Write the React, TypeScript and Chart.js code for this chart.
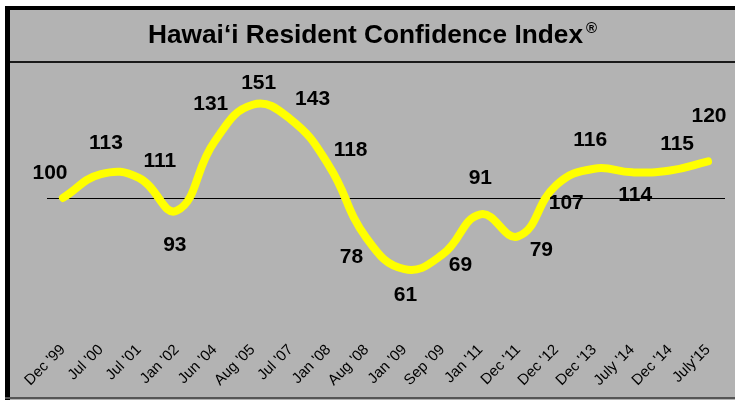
import React, { useEffect, useRef } from "react";
import { Chart, registerables } from "chart.js";

Chart.register(...registerables);

const categories = [
  "Dec '99", "Jul '00", "Jul '01", "Jan '02", "Jun '04", "Aug '05", "Jul '07", "Jan '08", "Aug '08",
  "Jan '09", "Sep '09", "Jan '11", "Dec '11", "Dec '12", "Dec '13", "July '14", "Dec '14", "July'15",
];
const indexValues = [100, 113, 111, 93, 131, 151, 143, 118, 78, 61, 69, 91, 79, 107, 116, 114, 115, 120];
const titleText = "Hawai\u2018i Resident Confidence Index";
const titleMark = "\u00AE";
const baselineValue = 100;

// label placement (offset in px from each point), presentation only
const labelOffsets: [number, number][] = [
  [-13, -25], [5, -31], [21, -17], [-2, 34], [-4, -37], [6, -22], [22, -20], [22, -15], [-15, 19],
  [1, 26], [18, 11], [0, -36], [23, 14], [10, 18], [-4, -28], [3, 23], [7, -26], [1, -45],
];

const FONT = "'Liberation Sans', Arial, Helvetica, sans-serif";

const framePlugin = {
  id: "frame",
  beforeDraw(chart: any) {
    const ctx = chart.ctx;
    const W = chart.width;
    const H = chart.height;
    ctx.save();
    ctx.fillStyle = "#ffffff";
    ctx.fillRect(0, 0, W, H);
    ctx.fillStyle = "#b3b3b3";
    ctx.fillRect(5, 6, W - 5, H - 6);
    ctx.fillStyle = "#000000";
    ctx.fillRect(5, 6, 5, H - 6);
    ctx.fillRect(5, 6, W - 5, 4);
    ctx.fillStyle = "#1a1a1a";
    ctx.fillRect(10, 61, W - 10, 2);
    ctx.fillStyle = "#555555";
    ctx.fillRect(5, 397, W - 5, 2);
    // title
    ctx.fillStyle = "#000000";
    ctx.font = `bold 25px ${FONT}`;
    ctx.textBaseline = "alphabetic";
    ctx.textAlign = "left";
    const w = ctx.measureText(titleText).width;
    const target = 435;
    const sx = target / w;
    ctx.save();
    ctx.translate(148, 43);
    ctx.scale(sx, 1);
    ctx.fillText(titleText, 0, 0);
    ctx.restore();
    ctx.font = `bold 15px ${FONT}`;
    ctx.fillText(titleMark, 148 + target + 3, 33);
    ctx.restore();
  },
  beforeDatasetsDraw(chart: any) {
    const ctx = chart.ctx;
    const y = chart.scales.y.getPixelForValue(baselineValue);
    const a = chart.chartArea;
    ctx.save();
    ctx.strokeStyle = "#000000";
    ctx.lineWidth = 1;
    ctx.beginPath();
    ctx.moveTo(a.left + 3, Math.round(y) + 0.5);
    ctx.lineTo(a.right - 2, Math.round(y) + 0.5);
    ctx.stroke();
    ctx.restore();
  },
  afterDatasetsDraw(chart: any) {
    const ctx = chart.ctx;
    const meta = chart.getDatasetMeta(0);
    ctx.save();
    ctx.fillStyle = "#000000";
    ctx.font = `bold 21px ${FONT}`;
    ctx.textAlign = "center";
    ctx.textBaseline = "middle";
    meta.data.forEach((pt: any, i: number) => {
      const [dx, dy] = labelOffsets[i] || [0, -20];
      ctx.fillText(String(indexValues[i]), pt.x + dx, pt.y + dy);
    });
    ctx.restore();
  },
};

export default function App() {
  const ref = useRef<HTMLCanvasElement | null>(null);
  useEffect(() => {
    document.body.style.margin = "0";
    const canvas = ref.current;
    if (!canvas) return;
    const chart = new Chart(canvas, {
      type: "line",
      data: {
        labels: categories,
        datasets: [
          {
            data: indexValues,
            borderColor: "#ffff00",
            borderWidth: 8,
            borderCapStyle: "round",
            borderJoinStyle: "round",
            tension: 0.45,
            pointRadius: 0,
            fill: false,
          },
        ],
      },
      options: {
        responsive: false,
        animation: false,
        devicePixelRatio: 1,
        layout: { padding: { top: 70, left: 44, right: 8, bottom: 5 } },
        plugins: { legend: { display: false }, title: { display: false }, tooltip: { enabled: false } },
        scales: {
          x: {
            offset: true,
            grid: { display: false, drawTicks: false },
            border: { display: false },
            afterFit: (scale: any) => {
              scale.height = 60;
            },
            ticks: {
              autoSkip: false,
              maxRotation: 45,
              minRotation: 45,
              padding: 6,
              color: "#000000",
              font: { family: FONT, size: 15 },
            },
          },
          y: {
            display: false,
            min: 25,
            max: 170,
          },
        },
      },
      plugins: [framePlugin],
    });
    return () => chart.destroy();
  }, []);
  return <canvas ref={ref} width={735} height={400} style={{ display: "block" }} />;
}
